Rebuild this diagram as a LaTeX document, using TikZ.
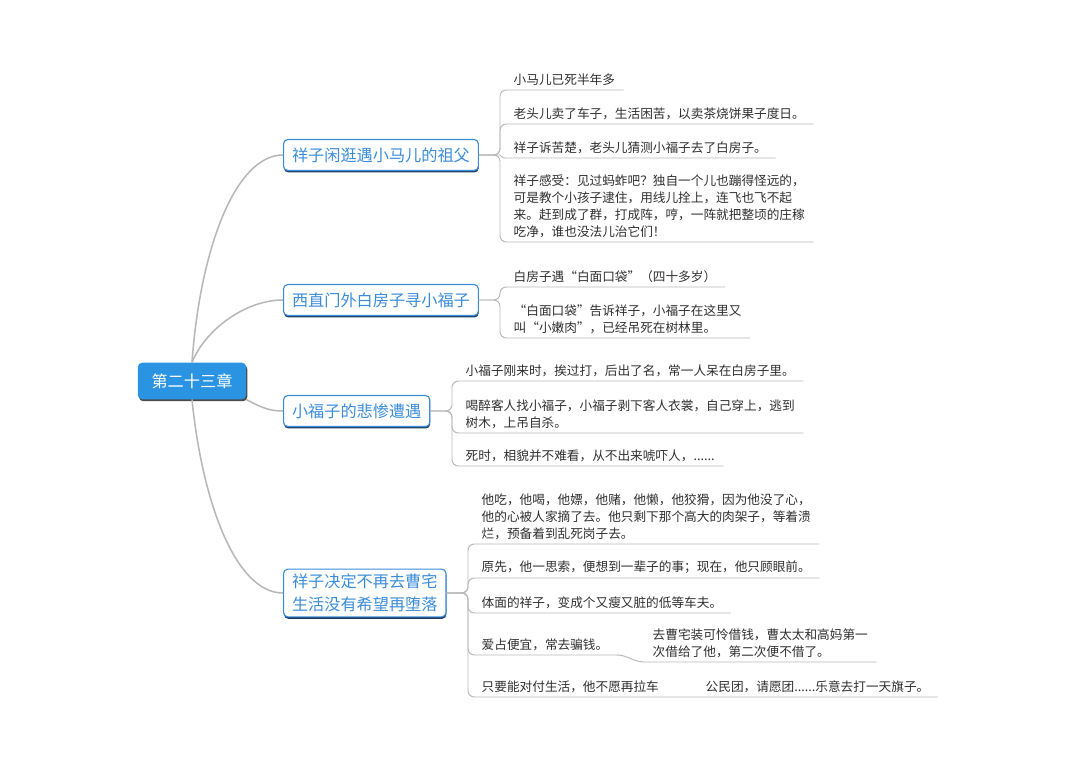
\documentclass[tikz,border=0pt]{standalone}
\usepackage{fontspec}
\newfontfamily\cjk{Noto Sans CJK SC}
\usetikzlibrary{positioning,shadows,calc}
\definecolor{rootblue}{HTML}{2A93E2}
\definecolor{topicblue}{HTML}{3B8DDA}
\definecolor{topicshade}{HTML}{1F3E66}
\definecolor{linegray}{HTML}{B8B8B8}
\definecolor{leaftext}{HTML}{2F2F2F}
\tikzset{
  root/.style={rectangle, rounded corners=3pt, fill=rootblue, text=white,
    font=\cjk\fontsize{11.5}{14}\selectfont, minimum width=77pt, minimum height=26pt,
    drop shadow={shadow xshift=0.8pt, shadow yshift=-1.4pt, fill=black!70, opacity=1}},
  topic/.style={rectangle, rounded corners=3pt, draw=topicblue, line width=0.8pt,
    fill=white, text=topicblue, font=\cjk\fontsize{11.5}{16.5}\selectfont,
    inner xsep=6pt, minimum height=22pt, align=left, anchor=west,
    drop shadow={shadow xshift=0.3pt, shadow yshift=-1.4pt, fill=topicshade, opacity=1}},
  leaf/.style={anchor=south west, inner xsep=6pt, inner ysep=3pt, text=leaftext,
    font=\cjk\fontsize{9}{12}\selectfont, align=left},
  conn/.style={draw=linegray, line width=0.7pt},
  trunk/.style={draw=linegray, line width=1.1pt},
  twig/.style={conn, rounded corners=4.5pt},
}

\begin{document}
\begin{tikzpicture}[x=0.025cm, y=-0.025cm]
\useasboundingbox (0,0) rectangle (1080,760);

\node[root] (root) at (192,381) {第二十三章};
\node[topic] (b1) at (283,155) {祥子闲逛遇小马儿的祖父};
\node[topic] (b2) at (283,300) {西直门外白房子寻小福子};
\node[topic] (b3) at (283,411) {小福子的悲惨遭遇};
\node[topic] (b4) at (283,593) {祥子决定不再去曹宅\\生活没有希望再堕落};

% root to topics
\draw[trunk] (root.north) .. controls (200,250) and (235,155) .. (b1.west);
\draw[trunk] (root.north) .. controls (205,330) and (245,300) .. (b2.west);
\draw[trunk] (root.south east) .. controls (262,408) and (270,411) .. (b3.west);
\draw[trunk] (root.south) .. controls (202,500) and (235,593) .. (b4.west);

% first topic
\coordinate (s1) at (500,155);
\node[leaf] (l11) at (505,90) {小马儿已死半年多};
\node[leaf] (l12) at (505,124) {老头儿卖了车子，生活困苦，以卖茶烧饼果子度日。};
\node[leaf] (l13) at (505,158) {祥子诉苦楚，老头儿猜测小福子去了白房子。};
\node[leaf] (l14) at (505,242) {祥子感受：见过蚂蚱吧？独自一个儿也蹦得怪远的，\\可是教个小孩子逮住，用线儿拴上，连飞也飞不起\\来。赶到成了群，打成阵，哼，一阵就把整顷的庄稼\\吃净，谁也没法儿治它们！};
\draw[twig] (b1.east) -- (s1) |- (l11.south east);
\draw[twig] (b1.east) -- (s1) |- (l12.south east);
\draw[conn] (b1.east) -- (s1) .. controls (503,158) .. (l13.south west) -- (l13.south east);
\draw[twig] (b1.east) -- (s1) |- (l14.south east);

% second topic
\coordinate (s2) at (500,300);
\node[leaf] (l21) at (505,287) {白房子遇“白面口袋”（四十多岁）};
\node[leaf] (l22) at (505,338) {“白面口袋”告诉祥子，小福子在这里又\\叫“小嫩肉”，已经吊死在树林里。};
\draw[twig] (b2.east) -- (s2) |- (l21.south east);
\draw[twig] (b2.east) -- (s2) |- (l22.south east);

% third topic
\coordinate (s3) at (452,411);
\node[leaf] (l31) at (457,381) {小福子刚来时，挨过打，后出了名，常一人呆在白房子里。};
\node[leaf] (l32) at (457,433) {喝醉客人找小福子，小福子剥下客人衣裳，自己穿上，逃到\\树木，上吊自杀。};
\node[leaf] (l33) at (457,466) {死时，相貌并不难看，从不出来唬吓人，......};
\draw[twig] (b3.east) -- (s3) |- (l31.south east);
\draw[twig] (b3.east) -- (s3) |- (l32.south east);
\draw[twig] (b3.east) -- (s3) |- (l33.south east);

% fourth topic
\coordinate (s4) at (468,593);
\node[leaf] (l41) at (473,544) {他吃，他喝，他嫖，他赌，他懒，他狡猾，因为他没了心，\\他的心被人家摘了去。他只剩下那个高大的肉架子，等着溃\\烂，预备着到乱死岗子去。};
\node[leaf] (l42) at (473,578) {原先，他一思索，便想到一辈子的事；现在，他只顾眼前。};
\node[leaf] (l43) at (473,613) {体面的祥子，变成个又瘦又脏的低等车夫。};
\node[leaf] (l44) at (473,655) {爱占便宜，常去骗钱。};
\node[leaf] (l441) at (644,662) {去曹宅装可怜借钱，曹太太和高妈第一\\次借给了他，第二次便不借了。};
\node[leaf] (l45) at (473,697) {只要能对付生活，他不愿再拉车};
\node[leaf] (l451) at (697,697) {公民团，请愿团......乐意去打一天旗子。};
\draw[twig] (b4.east) -- (s4) |- (l41.south east);
\draw[twig] (b4.east) -- (s4) |- (l42.south east);
\draw[twig] (b4.east) -- (s4) |- (l43.south east);
\draw[twig] (b4.east) -- (s4) |- (l44.south east);
\draw[conn] (l44.south east) .. controls +(10,0) and +(-10,0) .. (l441.south west) -- (l441.south east);
\draw[twig] (b4.east) -- (s4) |- (l451.south east);
\end{tikzpicture}
\end{document}
